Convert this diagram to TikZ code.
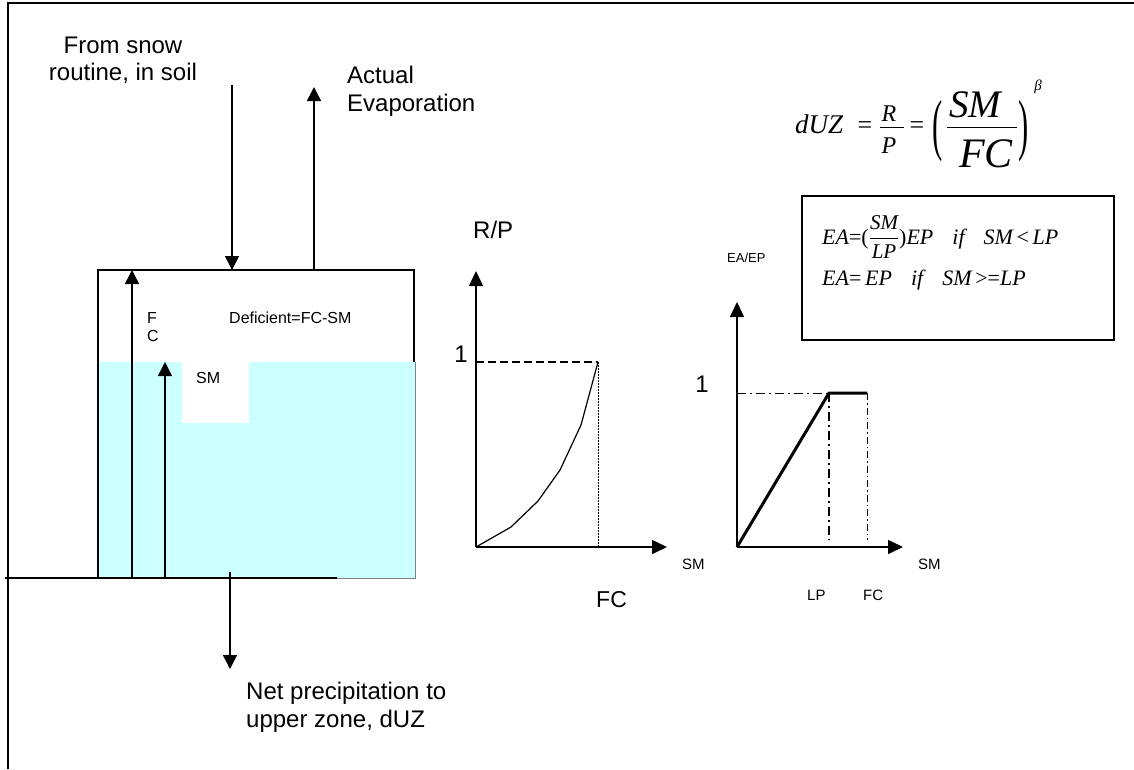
\documentclass[tikz,border=0pt]{standalone}
\usepackage{amsmath}
\usepackage{fontspec}
\setmainfont{Liberation Sans}
\newfontfamily\tms{Liberation Serif}
\usetikzlibrary{arrows.meta}
\definecolor{soil}{HTML}{CCFFFF}
\newcommand\fsz[1]{\fontsize{#1}{#1}\selectfont}
\newcommand\myfrac[2]{$\genfrac{}{}{0.7pt}{0}{\hbox{\fsz{21}#1}}{\hbox{\fsz{21}#2}}$}
\newcommand\up[1]{{\upshape #1}}
\newcommand\gap{\hspace{19pt}}
\begin{document}
\begin{tikzpicture}[x=1pt,y=-1pt,
  arr/.style={line width=1.5pt,-{Triangle[width=14pt,length=14pt]}},
  axis/.style={line width=1.5pt,-{Triangle[width=14pt,length=15pt]}},
  txt/.style={inner sep=0pt,anchor=base west},
  txtc/.style={inner sep=0pt,anchor=base},
  eq/.style={inner sep=0pt,anchor=base west,font=\tms\itshape\fsz{22}}]
\useasboundingbox (0,0) rectangle (1134,769);
% frame
\draw[line width=2pt] (8,769) -- (8,3) -- (1134,3);
% soil moisture
\fill[soil] (98,362) rectangle (415,578);
\draw[gray,line width=0.6pt] (415,362) -- (415,578) -- (337,578);
\fill[white] (182,362) rectangle (249,423);
% tank
\draw[line width=1.5pt] (98,578) -- (98,270) -- (414,270) -- (414,362);
\draw[line width=1.8pt] (5,578) -- (337,578);
% coordinates for arrows
\coordinate (fcb) at (132,578); \coordinate (fct) at (132,270);
\coordinate (smb) at (165,578); \coordinate (smt) at (165,362);
\coordinate (inA) at (232,85);  \coordinate (inB) at (232,270);
\coordinate (evA) at (314,270); \coordinate (evB) at (314,87);
\coordinate (outA) at (230,572); \coordinate (outB) at (230,669);
\draw[arr] (fcb) -- (fct);
\draw[arr] (smb) -- (smt);
\draw[arr] (inA) -- (inB);
\draw[arr] (evA) -- (evB);
\draw[arr] (outA) -- (outB);
% texts of tank
\node[txtc,font=\fsz{24}] (snow1) at (123,53) {From snow};
\node[txtc,font=\fsz{24}] (snow2) at (123,80) {routine, in soil};
\node[txt,font=\fsz{24}] (ev1) at (347,83) {Actual};
\node[txt,font=\fsz{24}] (ev2) at (347,111) {Evaporation};
\node[txt,font=\fsz{24}] (net1) at (246,699) {Net precipitation to};
\node[txt,font=\fsz{24}] (net2) at (246,727) {upper zone, dUZ};
\node[txt,font=\fsz{16}] (lF) at (147,323) {F};
\node[txt,font=\fsz{16}] (lC) at (147,341) {C};
\node[txt,font=\fsz{16}] (def) at (229,323) {Deficient=FC-SM};
\node[txt,font=\fsz{16}] (lsm) at (196,383) {SM};
% chart 1
\coordinate (o1) at (476,547);
\coordinate (y1) at (476,271);
\coordinate (x1) at (667,547);
\coordinate (c1) at (598,362);
\draw[axis] (o1) -- (y1);
\draw[axis] (o1) -- (x1);
\draw[line width=1.2pt,dash pattern=on 8pt off 4pt] (476,362) -- (c1);
\draw[line width=0.7pt,dash pattern=on 1.5pt off 1.5pt] (c1) -- (598,547);
\draw[line width=1.2pt,line join=round] (o1) -- (511,527) -- (538,501) -- (560,470) -- (581,425) -- (c1);
\node[txt,font=\fsz{24}] (rp) at (473,238) {R/P};
\node[txtc,font=\fsz{24}] (one1) at (461,362) {1};
\node[txt,font=\fsz{15}] (sm1) at (682,569) {SM};
\node[txt,font=\fsz{23}] (fc1) at (596,607) {FC};
% chart 2
\coordinate (o2) at (737,547);
\coordinate (y2) at (737,302);
\coordinate (x2) at (903,547);
\coordinate (lp) at (829,393);
\coordinate (fc) at (867,393);
\draw[axis] (o2) -- (y2);
\draw[axis] (o2) -- (x2);
\draw[line width=1pt,dash pattern=on 9pt off 4pt on 2pt off 4pt] (737,393) -- (lp);
\draw[line width=1.5pt,dash pattern=on 9pt off 4pt on 2pt off 4pt] (lp) -- (829,540);
\draw[line width=1pt,dash pattern=on 7pt off 3pt on 1.5pt off 3pt] (fc) -- (867,540);
\draw[line width=3pt,line join=round] (o2) -- (lp) -- (fc);
\node[txt,font=\fsz{13}] (eaep) at (727,262) {EA/EP};
\node[txtc,font=\fsz{24}] (one2) at (702,392) {1};
\node[txt,font=\fsz{15}] (sm2) at (918,569) {SM};
\node[txt,font=\fsz{15}] (lpl) at (807,600) {LP};
\node[txt,font=\fsz{15}] (fcl) at (863,600) {FC};
% big formula
\node[txt,font=\tms\itshape\fsz{27}] (duz) at (795,133) {dUZ};
\node[txtc,font=\tms\fsz{26}] (eq1) at (865,133) {=};
\node[txtc,font=\tms\itshape\fsz{24}] (fr) at (889,121) {R};
\node[txtc,font=\tms\itshape\fsz{24}] (fp) at (889,153) {P};
\draw[line width=0.7pt] (880,127) -- (904,127);
\node[txtc,font=\tms\fsz{26}] (eq2) at (917,133) {=};
\node[inner sep=0pt,font=\tms\fsz{68}] (lpar) at (938,131) {\scalebox{0.45}[1]{(}};
\node[txtc,font=\tms\itshape\fsz{39}] (fsm) at (975,117) {SM};
\node[txtc,font=\tms\itshape\fsz{42}] (ffc) at (986,167) {FC};
\draw[line width=0.8pt] (947,127) -- (1017,127);
\node[inner sep=0pt,font=\tms\fsz{68}] (rpar) at (1024,131) {\scalebox{0.45}[1]{)}};
\node[inner sep=0pt,font=\tms\itshape\fsz{15}] (beta) at (1038,87) {β};
% equation box
\node[draw,line width=1.5pt,inner sep=0pt,minimum width=312pt,minimum height=144pt,anchor=north west] (ebox) at (801,195) {};
\node[eq] (eqa) at (822,244) {EA\up{=}\up{(}\myfrac{SM}{LP}\up{)}EP\gap if\gap SM\up{\,<\,}LP};
\node[eq] (eqb) at (822,285) {EA\up{=}\,EP\gap if\gap SM\up{\,>=}LP};
\end{tikzpicture}
\end{document}
